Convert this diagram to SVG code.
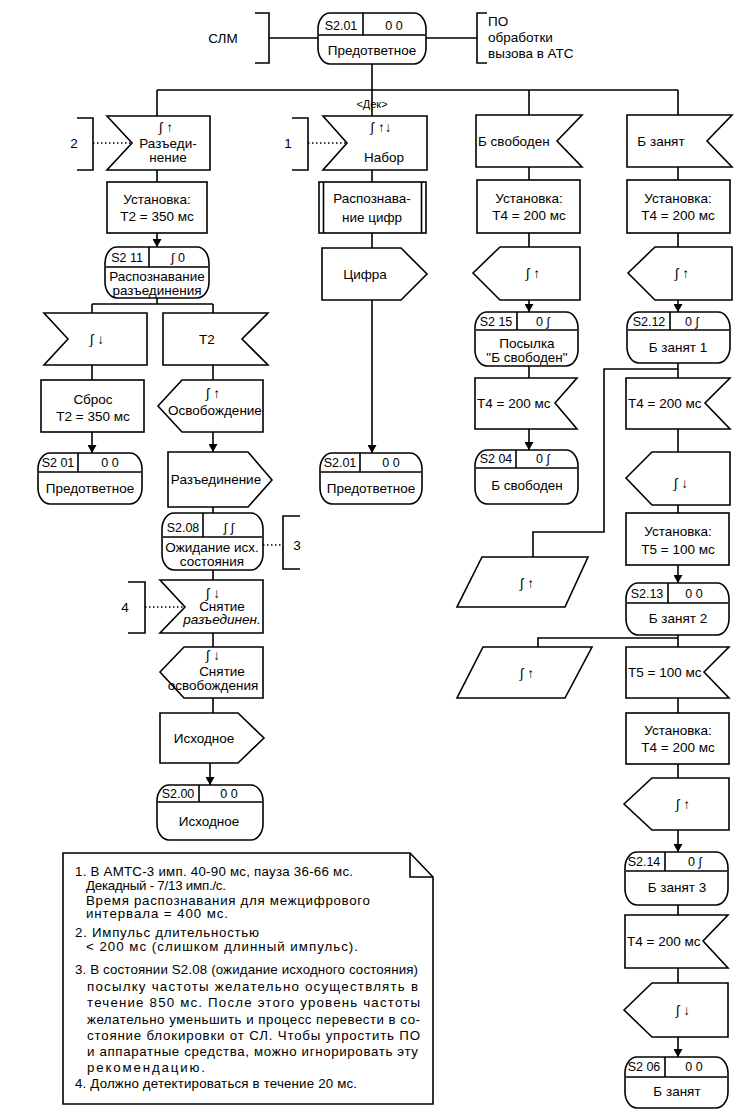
<svg xmlns="http://www.w3.org/2000/svg" width="744" height="1117" viewBox="0 0 744 1117">
<defs>
<style>
.s{fill:#fff;stroke:#000;stroke-width:1.6}
.c{fill:none;stroke:#000;stroke-width:1.6}
.a{fill:none;stroke:#000;stroke-width:1.6;marker-end:url(#ah)}
.d{fill:none;stroke:#000;stroke-width:1.4;stroke-dasharray:1.5 2.5}
text{font-family:"Liberation Sans",Arial,sans-serif;font-size:13.5px;fill:#000}
.m{text-anchor:middle}
.sm{font-size:12.5px}
.n{font-size:13.3px}
.i{font-style:italic}
</style>
<marker id="ah" markerWidth="8" markerHeight="9" refX="8" refY="4.5" orient="auto" markerUnits="userSpaceOnUse">
<path d="M0,0 L8,4.5 L0,9 Z" fill="#000"/>
</marker>
</defs>
<rect width="744" height="1117" fill="#fff"/>

<g id="connectors">
<path class="c" d="M269,38 H318"/>
<path class="c" d="M426,38 H477"/>
<path class="c" d="M372,64 V90 M157,90 H678"/>
<path class="c" d="M157,90 V116 M157,170 V182"/>
<path class="a" d="M157,233 V247"/>
<path class="c" d="M157,298 V304 M92,304 H213 M92,304 V313 M213,304 V313"/>
<path class="c" d="M92,365 V380"/>
<path class="a" d="M92,432 V453"/>
<path class="c" d="M213,365 V380"/>
<path class="a" d="M213,432 V452"/>
<path class="c" d="M213,507 V513 M213,570 V580 M213,633 V647 M213,698 V713"/>
<path class="a" d="M210,763 V785"/>
<path class="c" d="M372,90 V116 M372,170 V182 M372,233 V248"/>
<path class="a" d="M372,300 V453"/>
<path class="c" d="M529,90 V115 M529,167 V180 M529,233 V247"/>
<path class="a" d="M529,300 V312"/>
<path class="c" d="M529,366 V378"/>
<path class="a" d="M529,429 V450"/>
<path class="c" d="M678,90 V115 M678,167 V180 M678,233 V247"/>
<path class="a" d="M678,300 V312"/>
<path class="c" d="M678,363 V378 M678,369 H604 V532 H533 V557"/>
<path class="c" d="M678,429 V452 M678,505 V513"/>
<path class="a" d="M678,565 V583"/>
<path class="c" d="M678,635 V647 M678,638 H538 V647"/>
<path class="c" d="M678,698 V713 M678,764 V778"/>
<path class="a" d="M678,830 V852"/>
<path class="c" d="M678,905 V915 M678,968 V983"/>
<path class="a" d="M678,1037 V1057"/>
<path class="d" d="M93,143 H132 M308,143 H347 M263,545 H283 M145,607 H185"/>
</g>

<g id="slm">
<text x="223" y="43" class="m">СЛМ</text>
<path class="c" d="M255,13 H269 V63 H255"/>
</g>
<g id="po">
<path class="c" d="M487,13 H477 V63 H487"/>
<text x="488" y="26">ПО</text>
<text x="488" y="42">обработки</text>
<text x="488" y="58">вызова в АТС</text>
</g>
<g id="s201top">
<rect class="s" x="318" y="13" width="108" height="51" rx="12" ry="16"/>
<path class="c" d="M319,35 H425 M363,13 V35"/>
<text x="341" y="30" class="m sm">S2.01</text>
<text x="394" y="30" class="m sm">0 0</text>
<text x="372" y="55" class="m">Предответное</text>
</g>
<text x="372" y="108" class="m" style="font-size:11px">&lt;Дек&gt;</text>

<!-- column 1 -->
<g id="c2">
<path class="c" d="M77,118 H93 V170 H77"/>
<text x="74" y="148" class="m">2</text>
</g>
<g id="razed">
<path class="s" d="M107,116 H210 V170 H107 L132,143 Z"/>
<text x="166" y="132" class="m">∫ ↑</text>
<text x="168" y="148" class="m">Разъеди-</text>
<text x="168" y="162" class="m">нение</text>
</g>
<g id="t2set">
<rect class="s" x="107" y="182" width="100" height="51"/>
<text x="157" y="204" class="m">Установка:</text>
<text x="157" y="221" class="m">T2 = 350 мс</text>
</g>
<g id="s211">
<rect class="s" x="105" y="247" width="104" height="51" rx="12" ry="16"/>
<path class="c" d="M106,267 H208 M149,247 V267"/>
<text x="127" y="262" class="m sm">S2 11</text>
<text x="178" y="262" class="m sm">∫ 0</text>
<text x="157" y="281" class="m">Распознавание</text>
<text x="157" y="295" class="m">разъединения</text>
</g>
<g id="fdown1">
<path class="s" d="M44,313 H147 V365 H44 L68,339 Z"/>
<text x="97" y="344" class="m">∫ ↓</text>
</g>
<g id="sbros">
<rect class="s" x="41" y="380" width="103" height="52"/>
<text x="93" y="404" class="m">Сброс</text>
<text x="93" y="421" class="m">T2 = 350 мс</text>
</g>
<g id="s201a">
<rect class="s" x="38" y="453" width="104" height="51" rx="12" ry="16"/>
<path class="c" d="M39,472 H141 M78,453 V472"/>
<text x="58" y="467" class="m sm">S2 01</text>
<text x="110" y="467" class="m sm">0 0</text>
<text x="90" y="493" class="m">Предответное</text>
</g>
<g id="t2in">
<path class="s" d="M163,313 H268 L242,339 L268,365 H163 Z"/>
<text x="207" y="344" class="m">T2</text>
</g>
<g id="osvob">
<path class="s" d="M158,406 L182,380 H263 V432 H182 Z"/>
<text x="213" y="398" class="m">∫ ↑</text>
<text x="215" y="415" class="m">Освобождение</text>
</g>
<g id="razout">
<path class="s" d="M168,452 H248 L272,480 L248,507 H168 Z"/>
<text x="216" y="484" class="m">Разъединение</text>
</g>
<g id="s208">
<rect class="s" x="162" y="513" width="101" height="57" rx="12" ry="16"/>
<path class="c" d="M163,537 H262 M203,513 V537"/>
<text x="183" y="532" class="m sm">S2.08</text>
<text x="229" y="532" class="m sm">∫ ∫</text>
<text x="212" y="552" class="m">Ожидание исх.</text>
<text x="212" y="566" class="m">состояния</text>
</g>
<g id="c3">
<path class="c" d="M300,516 H283 V569 H300"/>
<text x="297" y="550" class="m">3</text>
</g>
<g id="snrazed">
<path class="s" d="M160,580 H263 V633 H160 L185,607 Z"/>
<text x="213" y="598" class="m">∫ ↓</text>
<text x="222" y="611" class="m">Снятие</text>
<text x="222" y="624" class="m i">разъединен.</text>
</g>
<g id="c4">
<path class="c" d="M128,582 H145 V633 H128"/>
<text x="125" y="612" class="m">4</text>
</g>
<g id="snosvob">
<path class="s" d="M160,672 L184,647 H263 V698 H184 Z"/>
<text x="213" y="660" class="m">∫ ↓</text>
<text x="222" y="676" class="m">Снятие</text>
<text x="213" y="690" class="m">освобождения</text>
</g>
<g id="ishout">
<path class="s" d="M160,713 H238 L264,738 L238,763 H160 Z"/>
<text x="204" y="743" class="m">Исходное</text>
</g>
<g id="s200">
<rect class="s" x="157" y="785" width="106" height="55" rx="12" ry="16"/>
<path class="c" d="M158,802 H262 M199,785 V802"/>
<text x="178" y="798" class="m sm">S2.00</text>
<text x="229" y="798" class="m sm">0 0</text>
<text x="209" y="826" class="m">Исходное</text>
</g>

<!-- column 2 -->
<g id="c1">
<path class="c" d="M292,118 H308 V170 H292"/>
<text x="288" y="148" class="m">1</text>
</g>
<g id="nabor">
<path class="s" d="M323,116 H427 V170 H323 L347,143 Z"/>
<text x="381" y="132" class="m">∫ ↑↓</text>
<text x="384" y="162" class="m">Набор</text>
</g>
<g id="raspcifr">
<rect class="s" x="319" y="182" width="107" height="51"/>
<path class="c" d="M323.5,182 V233 M421.5,182 V233"/>
<text x="372" y="203" class="m">Распознава-</text>
<text x="372" y="222" class="m">ние цифр</text>
</g>
<g id="cifra">
<path class="s" d="M322,248 H401 L427,274 L401,300 H322 Z"/>
<text x="365" y="279" class="m">Цифра</text>
</g>
<g id="s201b">
<rect class="s" x="320" y="453" width="102" height="51" rx="12" ry="16"/>
<path class="c" d="M321,472 H421 M360,453 V472"/>
<text x="340" y="467" class="m sm">S2.01</text>
<text x="391" y="467" class="m sm">0 0</text>
<text x="371" y="493" class="m">Предответное</text>
</g>

<!-- column 3 -->
<g id="bsvob">
<path class="s" d="M476,115 H582 L557,141 L582,167 H476 Z"/>
<text x="478" y="146">Б свободен</text>
</g>
<g id="t4set3">
<rect class="s" x="477" y="180" width="103" height="53"/>
<text x="529" y="203" class="m">Установка:</text>
<text x="529" y="220" class="m">T4 = 200 мс</text>
</g>
<g id="fup3">
<path class="s" d="M473,273 L500,247 H580 V300 H500 Z"/>
<text x="533" y="278" class="m">∫ ↑</text>
</g>
<g id="s215">
<rect class="s" x="475" y="312" width="103" height="54" rx="12" ry="16"/>
<path class="c" d="M476,330 H577 M517,312 V330"/>
<text x="496" y="326" class="m sm">S2 15</text>
<text x="543" y="326" class="m sm">0 ∫</text>
<text x="527" y="348" class="m">Посылка</text>
<text x="527" y="362" class="m">"Б свободен"</text>
</g>
<g id="t4in3">
<path class="s" d="M475,378 H577 L555,403 L577,429 H475 Z"/>
<text x="477" y="408">T4 = 200 мс</text>
</g>
<g id="s204">
<rect class="s" x="475" y="450" width="103" height="54" rx="12" ry="16"/>
<path class="c" d="M476,468 H577 M516,450 V468"/>
<text x="496" y="463" class="m sm">S2 04</text>
<text x="543" y="463" class="m sm">0 ∫</text>
<text x="527" y="490" class="m">Б свободен</text>
</g>

<!-- column 4 -->
<g id="bzan">
<path class="s" d="M627,115 H732 L707,141 L732,167 H627 Z"/>
<text x="661" y="146" class="m">Б занят</text>
</g>
<g id="t4set4">
<rect class="s" x="627" y="180" width="103" height="53"/>
<text x="678" y="203" class="m">Установка:</text>
<text x="678" y="220" class="m">T4 = 200 мс</text>
</g>
<g id="fup4">
<path class="s" d="M628,273 L655,247 H732 V300 H655 Z"/>
<text x="682" y="278" class="m">∫ ↑</text>
</g>
<g id="s212">
<rect class="s" x="627" y="312" width="103" height="51" rx="12" ry="16"/>
<path class="c" d="M628,330 H729 M670,312 V330"/>
<text x="649" y="326" class="m sm">S2.12</text>
<text x="692" y="326" class="m sm">0 ∫</text>
<text x="678" y="352" class="m">Б занят 1</text>
</g>
<g id="t4in4">
<path class="s" d="M626,378 H730 L705,403 L730,429 H626 Z"/>
<text x="628" y="408">T4 = 200 мс</text>
</g>
<g id="fdown4">
<path class="s" d="M626,478 L652,452 H730 V505 H652 Z"/>
<text x="681" y="488" class="m">∫ ↓</text>
</g>
<g id="t5set">
<rect class="s" x="626" y="513" width="103" height="52"/>
<text x="678" y="536" class="m">Установка:</text>
<text x="678" y="554" class="m">T5 = 100 мс</text>
</g>
<g id="s213">
<rect class="s" x="626" y="583" width="103" height="52" rx="12" ry="16"/>
<path class="c" d="M627,603 H728 M668,583 V603"/>
<text x="647" y="598" class="m sm">S2.13</text>
<text x="694" y="598" class="m sm">0 0</text>
<text x="678" y="623" class="m">Б занят 2</text>
</g>
<g id="par1">
<path class="s" d="M482,557 H588 L565,607 H457 Z"/>
<text x="527" y="588" class="m">∫ ↑</text>
</g>
<g id="par2">
<path class="s" d="M483,647 H592 L565,698 H457 Z"/>
<text x="527" y="678" class="m">∫ ↑</text>
</g>
<g id="t5in">
<path class="s" d="M626,647 H729 L704,672 L729,698 H626 Z"/>
<text x="628" y="677">T5 = 100 мс</text>
</g>
<g id="t4set5">
<rect class="s" x="626" y="713" width="103" height="51"/>
<text x="678" y="735" class="m">Установка:</text>
<text x="678" y="752" class="m">T4 = 200 мс</text>
</g>
<g id="fup5">
<path class="s" d="M624,804 L652,778 H729 V830 H652 Z"/>
<text x="683" y="809" class="m">∫ ↑</text>
</g>
<g id="s214">
<rect class="s" x="625" y="852" width="103" height="53" rx="12" ry="16"/>
<path class="c" d="M626,871 H727 M665,852 V871"/>
<text x="644" y="866" class="m sm">S2.14</text>
<text x="695" y="866" class="m sm">0 ∫</text>
<text x="677" y="892" class="m">Б занят 3</text>
</g>
<g id="t4in5">
<path class="s" d="M625,915 H728 L703,941 L728,968 H625 Z"/>
<text x="627" y="946">T4 = 200 мс</text>
</g>
<g id="fdown5">
<path class="s" d="M624,1010 L652,983 H728 V1037 H652 Z"/>
<text x="683" y="1015" class="m">∫ ↓</text>
</g>
<g id="s206">
<rect class="s" x="625" y="1057" width="103" height="51" rx="12" ry="16"/>
<path class="c" d="M626,1077 H727 M665,1057 V1077"/>
<text x="644" y="1071" class="m sm">S2 06</text>
<text x="694" y="1071" class="m sm">0 0</text>
<text x="677" y="1096" class="m">Б занят</text>
</g>

<!-- note -->
<g id="note">
<path class="s" d="M63,853 H410 L433,877 V1104 H63 Z"/>
<path class="c" d="M410,853 V877 H433"/>
<text x="75" y="876" class="n" textLength="278" lengthAdjust="spacing">1. В АМТС-3 имп. 40-90 мс, пауза 36-66 мс.</text>
<text x="86" y="890" class="n" textLength="140" lengthAdjust="spacing">Декадный - 7/13 имп./с.</text>
<text x="86" y="905" class="n" textLength="284" lengthAdjust="spacing">Время распознавания для межцифрового</text>
<text x="86" y="918" class="n" textLength="142" lengthAdjust="spacing">интервала = 400 мс.</text>
<text x="75" y="937" class="n" textLength="184" lengthAdjust="spacing">2. Импульс длительностью</text>
<text x="86" y="951" class="n" textLength="272" lengthAdjust="spacing">&lt; 200 мс (слишком длинный импульс).</text>
<text x="75" y="974" class="n" textLength="343" lengthAdjust="spacing">3. В состоянии S2.08 (ожидание исходного состояния)</text>
<text x="87" y="991" class="n" textLength="331" lengthAdjust="spacing">посылку  частоты  желательно  осуществлять в</text>
<text x="87" y="1007" class="n" textLength="333" lengthAdjust="spacing">течение  850  мс.  После этого уровень частоты</text>
<text x="87" y="1024" class="n" textLength="333" lengthAdjust="spacing">желательно уменьшить и процесс перевести в со-</text>
<text x="87" y="1040" class="n" textLength="333" lengthAdjust="spacing">стояние блокировки от СЛ. Чтобы упростить ПО</text>
<text x="87" y="1056" class="n" textLength="331" lengthAdjust="spacing">и аппаратные средства, можно игнорировать эту</text>
<text x="87" y="1072" class="n" textLength="118" lengthAdjust="spacing">рекомендацию.</text>
<text x="75" y="1088" class="n" textLength="282" lengthAdjust="spacing">4. Должно детектироваться в течение 20 мс.</text>
</g>
</svg>
